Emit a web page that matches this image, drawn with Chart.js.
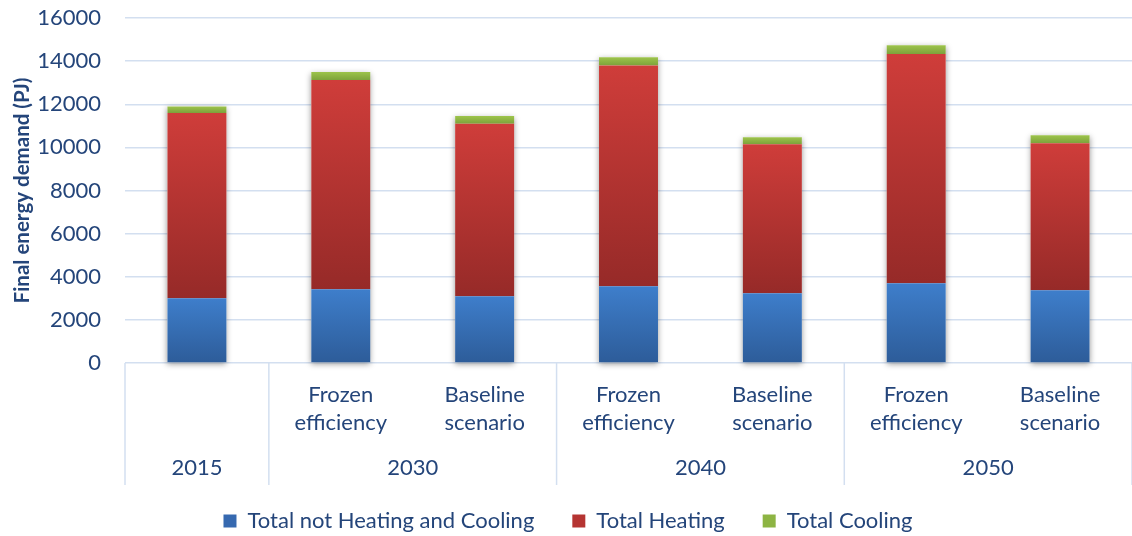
<!DOCTYPE html>
<html>
<head>
<meta charset="utf-8">
<script src="https://cdn.jsdelivr.net/npm/chart.js@4/dist/chart.umd.min.js"></script>
<style>
  html, body { margin: 0; padding: 0; background: #ffffff; }
  #wrap { width: 1132px; height: 536px; }
</style>
</head>
<body>
<div id="wrap"><canvas id="chart" width="1132" height="536"></canvas></div>
<script>
// Scenario sub-labels (one per bar) and the year groups they belong to
const scenarioLabels = ['', ['Frozen', 'efficiency'], ['Baseline', 'scenario'],
  ['Frozen', 'efficiency'], ['Baseline', 'scenario'],
  ['Frozen', 'efficiency'], ['Baseline', 'scenario']];
const yearLabels = ['2015', '2030', '2040', '2050'];
const yearGroupSizes = [1, 2, 2, 2];

// Final energy demand, PJ
const notHeatingCooling = [3000, 3420, 3100, 3560, 3230, 3700, 3370];
const heating = [8600, 9700, 8000, 10240, 6920, 10630, 6820];
const cooling = [300, 380, 350, 380, 320, 410, 370];

const yTicks = [0, 2000, 4000, 6000, 8000, 10000, 12000, 14000, 16000];

const TEXT = '#24457A';
const GRID = '#D3DFF0';
const FONT = 'Lato, "Open Sans", sans-serif';

// vertical gradient across each stacked segment, light at the top, dark at the bottom
function segmentFill(light, dark) {
  return (ctx) => {
    const chart = ctx.chart;
    if (!chart.chartArea || ctx.type !== 'data') return light;
    const y = chart.scales.y;
    const i = ctx.dataIndex, d = ctx.datasetIndex;
    let base = 0;
    for (let k = 0; k < d; k++) base += chart.data.datasets[k].data[i];
    const top = base + chart.data.datasets[d].data[i];
    const y0 = y.getPixelForValue(top), y1 = y.getPixelForValue(base);
    if (!isFinite(y0) || !isFinite(y1) || y0 === y1) return light;
    const g = chart.ctx.createLinearGradient(0, y0, 0, y1);
    g.addColorStop(0, light);
    g.addColorStop(1, dark);
    return g;
  };
}

const legendSwatches = ['#3669B0', '#B53432', '#8DB443'];

// soft drop shadow behind each full stack
const stackShadow = {
  id: 'stackShadow',
  beforeDatasetsDraw(chart) {
    const metas = chart.data.datasets.map((_, k) => chart.getDatasetMeta(k));
    const first = metas[0], last = metas[metas.length - 1];
    const c = chart.ctx;
    c.save();
    c.shadowColor = 'rgba(0,0,0,0.4)';
    c.shadowBlur = 6;
    c.shadowOffsetX = 0;
    c.shadowOffsetY = 2;
    c.fillStyle = '#ffffff';
    first.data.forEach((bar, i) => {
      const topBar = last.data[i];
      const w = bar.width;
      c.fillRect(bar.x - w / 2, topBar.y, w, bar.base - topBar.y);
    });
    c.restore();
  }
};

// year group labels and separators beneath the scenario labels
const yearGroups = {
  id: 'yearGroups',
  afterDraw(chart) {
    const x = chart.scales.x;
    const area = chart.chartArea;
    const half = (x.getPixelForValue(1) - x.getPixelForValue(0)) / 2;
    const c = chart.ctx;
    const lineBottom = area.bottom + 122;
    c.save();
    c.strokeStyle = GRID;
    c.lineWidth = 1.5;
    c.fillStyle = TEXT;
    c.font = '22px ' + FONT;
    c.textAlign = 'center';
    c.textBaseline = 'middle';
    let start = 0;
    const drawSep = (px) => {
      c.beginPath();
      c.moveTo(px, area.bottom);
      c.lineTo(px, lineBottom);
      c.stroke();
    };
    drawSep(x.getPixelForValue(0) - half);
    yearGroupSizes.forEach((n, g) => {
      const end = start + n - 1;
      const cx = (x.getPixelForValue(start) + x.getPixelForValue(end)) / 2;
      c.fillText(yearLabels[g], cx, area.bottom + 105);
      drawSep(x.getPixelForValue(end) + half);
      start += n;
    });
    c.restore();
  }
};

new Chart(document.getElementById('chart'), {
  type: 'bar',
  data: {
    labels: scenarioLabels,
    datasets: [
      { label: 'Total not Heating and Cooling', data: notHeatingCooling,
        backgroundColor: segmentFill('#3E7ECB', '#2D5C99') },
      { label: 'Total Heating', data: heating,
        backgroundColor: segmentFill('#CF3D3A', '#962A28') },
      { label: 'Total Cooling', data: cooling,
        backgroundColor: segmentFill('#9DC44B', '#7DA23B') }
    ]
  },
  options: {
    responsive: false,
    animation: false,
    layout: { padding: { top: 18, right: -4, left: 0, bottom: -6 } },
    datasets: { bar: { categoryPercentage: 1, barPercentage: 0.41, borderWidth: 0 } },
    scales: {
      x: {
        stacked: true,
        grid: { display: false, drawTicks: false },
        border: { display: false },
        ticks: { color: TEXT, font: { family: FONT, size: 22, lineHeight: 1.27 }, padding: 18, maxRotation: 0, autoSkip: false },
        afterFit(scale) { scale.height = 109; }
      },
      y: {
        stacked: true,
        min: 0, max: 16000,
        afterBuildTicks(scale) { scale.ticks = yTicks.map(v => ({ value: v })); },
        grid: { color: GRID, lineWidth: 1.5, drawTicks: false },
        border: { display: false },
        ticks: { color: TEXT, font: { family: FONT, size: 22 }, padding: 24,
                 callback: (v) => String(v) },
        title: { display: true, text: 'Final energy demand (PJ)', color: TEXT,
                 font: { family: FONT, size: 20.5, weight: 'bold' }, padding: { top: 10, bottom: 0 } },
        afterFit(scale) {
          scale.width = 125;
          scale.paddingTop = 0;
          scale.paddingBottom = 0;
        }
      }
    },
    plugins: {
      legend: {
        position: 'bottom',
        labels: {
          color: TEXT,
          font: { family: FONT, size: 22 },
          boxWidth: 13, boxHeight: 13,
          padding: 38,
          generateLabels(chart) {
            return chart.data.datasets.map((ds, i) => ({
              text: ds.label, fillStyle: legendSwatches[i], strokeStyle: legendSwatches[i],
              lineWidth: 0, fontColor: TEXT, hidden: false, datasetIndex: i
            }));
          }
        }
      },
      tooltip: { enabled: false }
    }
  },
  plugins: [stackShadow, yearGroups]
});
</script>
</body>
</html>
